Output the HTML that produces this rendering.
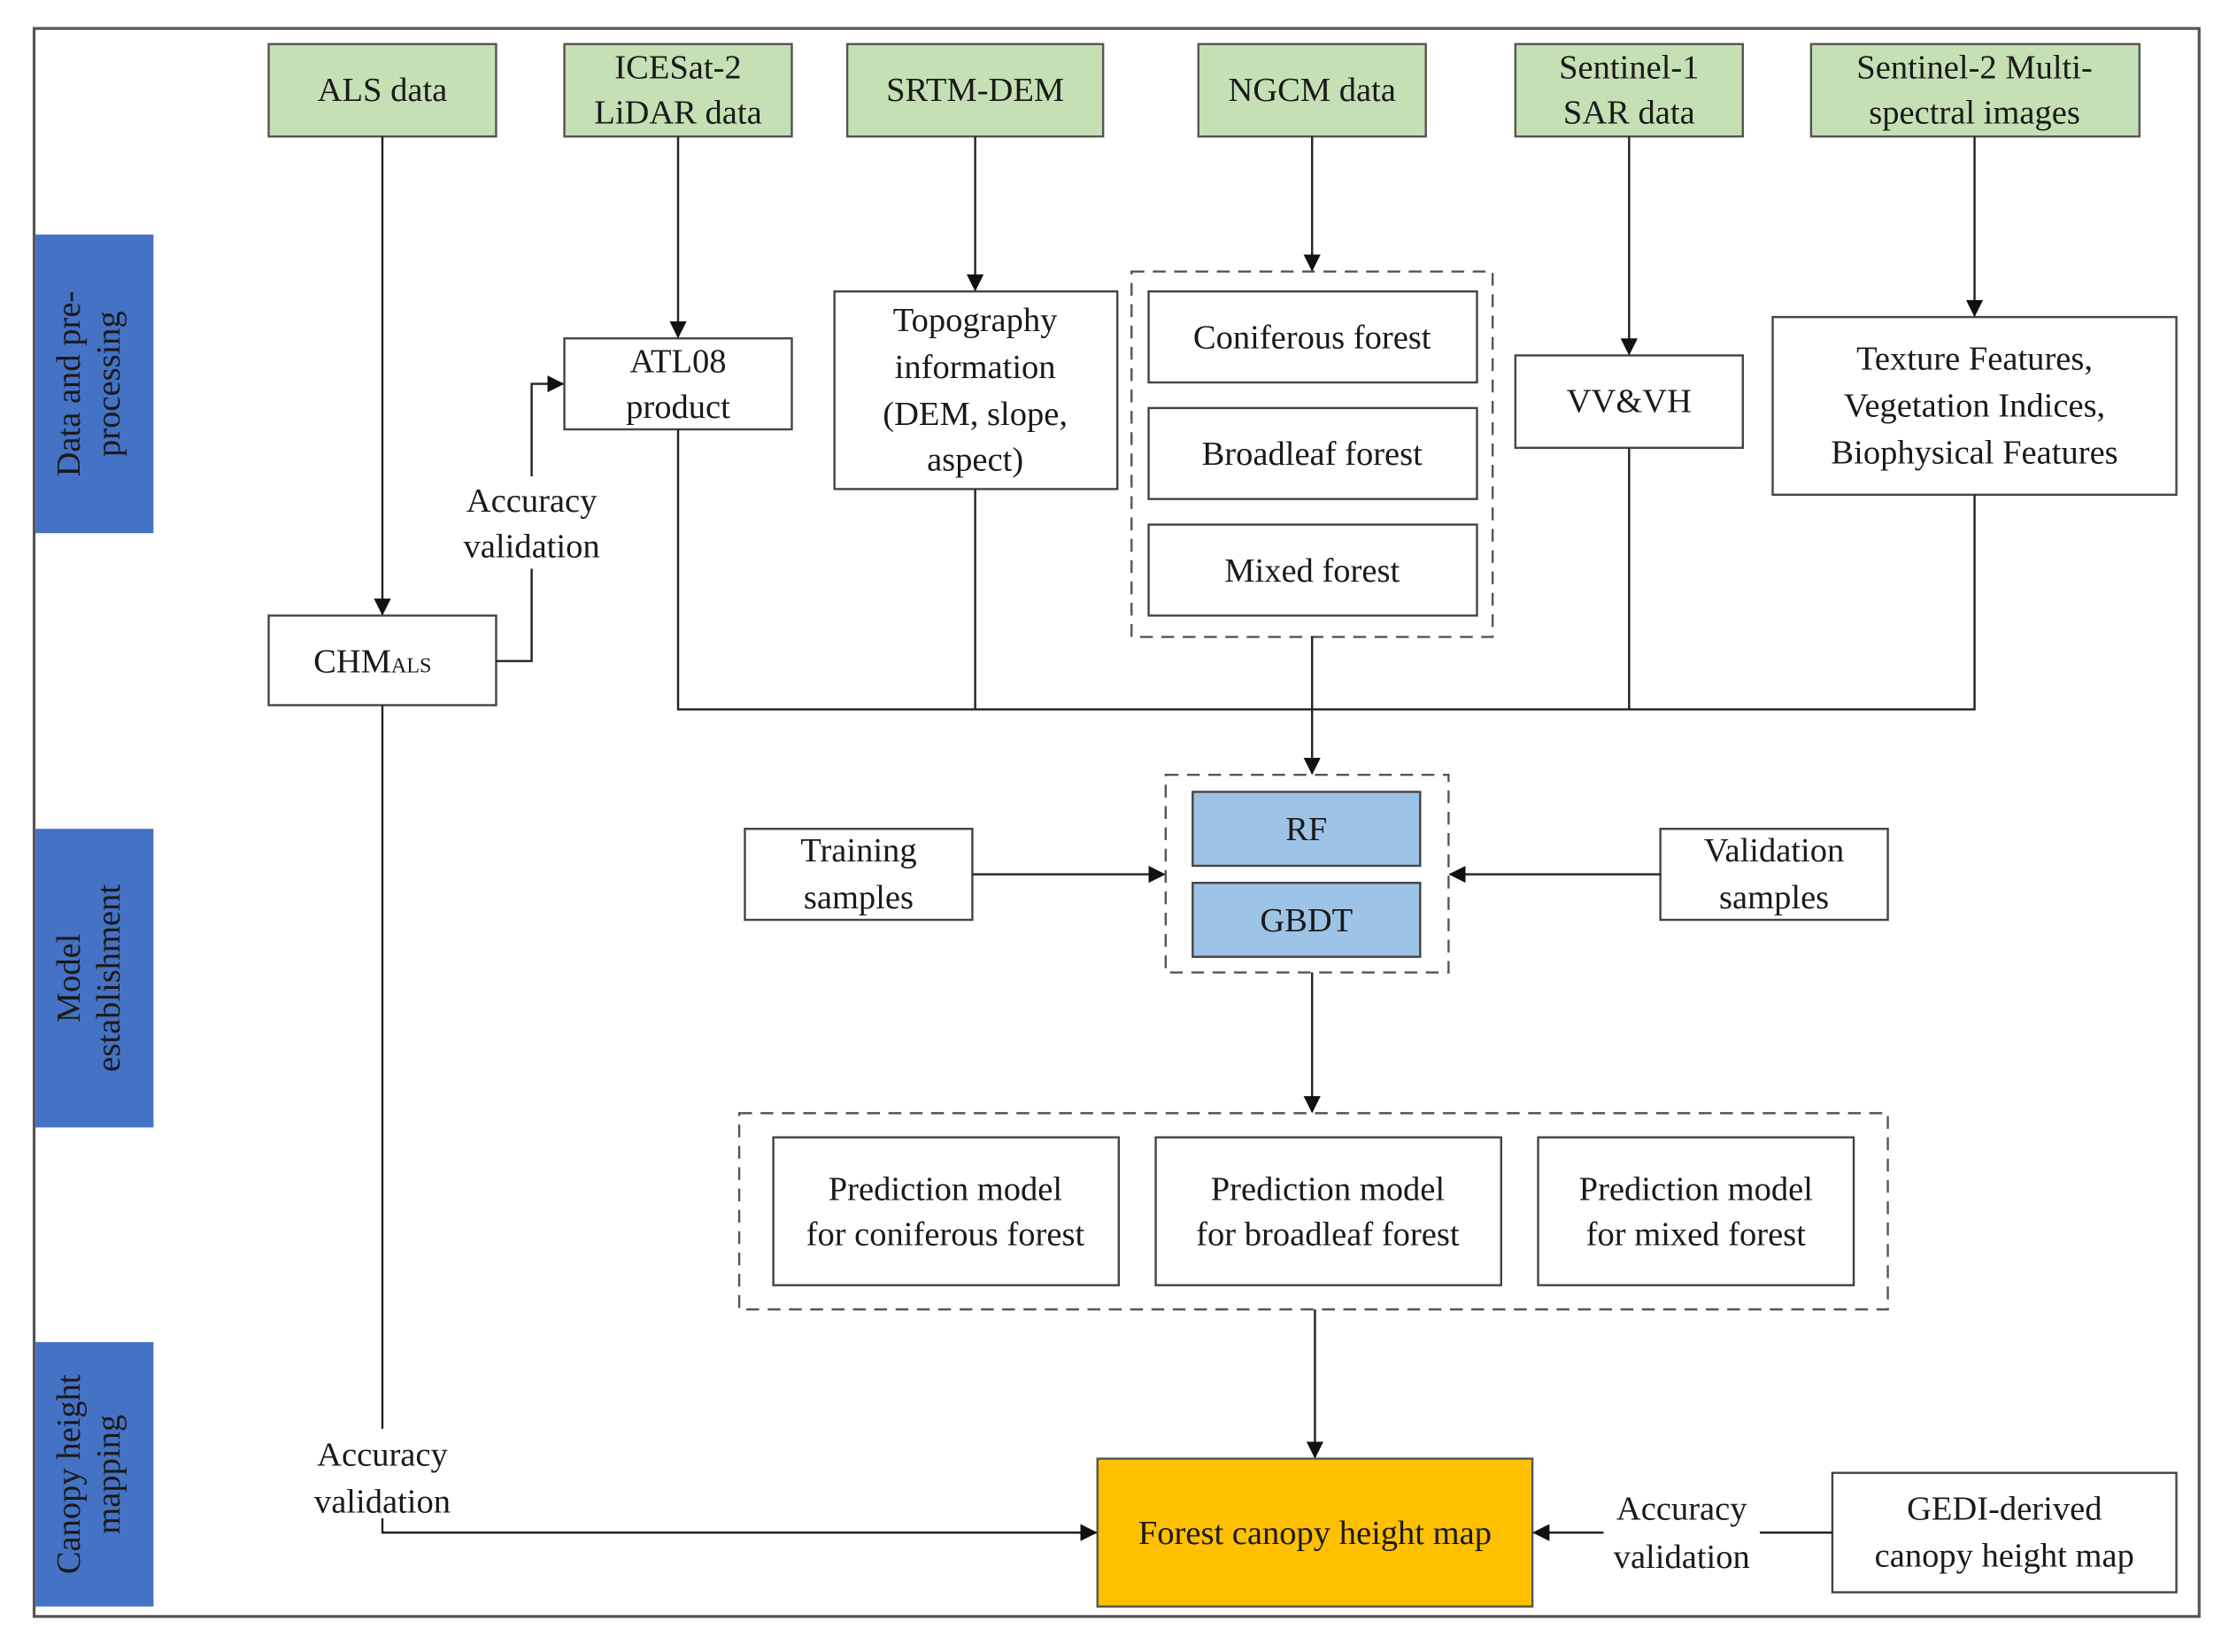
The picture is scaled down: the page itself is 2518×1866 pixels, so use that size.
<!DOCTYPE html>
<html><head><meta charset="utf-8"><style>html,body{margin:0;padding:0;background:#fff}svg{display:block}</style></head><body>
<svg width="2518" height="1866" viewBox="0 0 1568 1162" preserveAspectRatio="none" xmlns="http://www.w3.org/2000/svg" font-family="Liberation Serif, serif" font-size="24" fill="#1a1a1a">
<defs><marker id="a" markerWidth="12" markerHeight="12" refX="11" refY="6" orient="auto" markerUnits="userSpaceOnUse"><path d="M0,0 L12,6 L0,12 z" fill="#111"/></marker></defs>
<rect x="24" y="20" width="1523" height="1117" fill="#fff" stroke="#555" stroke-width="2"/>
<g fill="#4472c4"><rect x="25" y="165" width="83" height="210"/><rect x="25" y="583" width="83" height="210"/><rect x="25" y="944" width="83" height="186"/></g>
<g font-size="24" text-anchor="middle" fill="#1a1a1a">
<text transform="translate(56,270) rotate(-90)">Data and pre-</text><text transform="translate(84,270) rotate(-90)">processing</text>
<text transform="translate(56,688) rotate(-90)">Model</text><text transform="translate(84,688) rotate(-90)">establishment</text>
<text transform="translate(56,1037) rotate(-90)">Canopy height</text><text transform="translate(84,1037) rotate(-90)">mapping</text>
</g>
<g fill="#c5e0b4" stroke="#555" stroke-width="1.5">
<rect x="189" y="31" width="160" height="65"/><rect x="397" y="31" width="160" height="65"/><rect x="596" y="31" width="180" height="65"/><rect x="843" y="31" width="160" height="65"/><rect x="1066" y="31" width="160" height="65"/><rect x="1274" y="31" width="231" height="65"/>
</g>
<g fill="#fff" stroke="#444" stroke-width="1.5">
<rect x="189" y="433" width="160" height="63"/><rect x="397" y="238" width="160" height="64"/><rect x="587" y="205" width="199" height="139"/>
<rect x="808" y="205" width="231" height="64"/><rect x="808" y="287" width="231" height="64"/><rect x="808" y="369" width="231" height="64"/>
<rect x="1066" y="250" width="160" height="65"/><rect x="1247" y="223" width="284" height="125"/>
<rect x="524" y="583" width="160" height="64"/><rect x="1168" y="583" width="160" height="64"/>
<rect x="544" y="800" width="243" height="104"/><rect x="813" y="800" width="243" height="104"/><rect x="1082" y="800" width="222" height="104"/>
<rect x="1289" y="1036" width="242" height="84"/>
</g>
<g fill="none" stroke="#555" stroke-width="1.5" stroke-dasharray="9,6">
<rect x="796" y="191" width="254" height="257"/><rect x="820" y="545" width="199" height="139"/><rect x="520" y="783" width="808" height="138"/>
</g>
<g fill="#9dc3e6" stroke="#444" stroke-width="1.5"><rect x="839" y="557" width="160" height="52"/><rect x="839" y="621" width="160" height="52"/></g>
<rect x="772" y="1026" width="306" height="104" fill="#ffc000" stroke="#555" stroke-width="1.5"/>
<g stroke="#222" stroke-width="1.5" fill="none">
<line x1="269" y1="96" x2="269" y2="432" marker-end="url(#a)"/>
<line x1="477" y1="96" x2="477" y2="237" marker-end="url(#a)"/>
<line x1="686" y1="96" x2="686" y2="204" marker-end="url(#a)"/>
<line x1="923" y1="96" x2="923" y2="190" marker-end="url(#a)"/>
<line x1="1146" y1="96" x2="1146" y2="249" marker-end="url(#a)"/>
<line x1="1389" y1="96" x2="1389" y2="222" marker-end="url(#a)"/>
<polyline points="349,465 374,465 374,400"/><polyline points="374,335 374,270 396,270" marker-end="url(#a)"/>
<polyline points="477,302 477,499 1389,499 1389,348"/>
<line x1="686" y1="344" x2="686" y2="499"/><line x1="1146" y1="315" x2="1146" y2="499"/>
<line x1="923" y1="448" x2="923" y2="544" marker-end="url(#a)"/>
<line x1="684" y1="615" x2="819" y2="615" marker-end="url(#a)"/>
<line x1="1168" y1="615" x2="1020" y2="615" marker-end="url(#a)"/>
<line x1="923" y1="684" x2="923" y2="782" marker-end="url(#a)"/>
<line x1="925" y1="921" x2="925" y2="1025" marker-end="url(#a)"/>
<line x1="269" y1="496" x2="269" y2="1005"/><polyline points="269,1068 269,1078 771,1078" marker-end="url(#a)"/>
<line x1="1289" y1="1078" x2="1238" y2="1078"/><line x1="1128" y1="1078" x2="1079" y2="1078" marker-end="url(#a)"/>
</g>
<g text-anchor="middle">
<text x="269" y="71">ALS data</text>
<text x="477" y="55">ICESat-2</text><text x="477" y="87">LiDAR data</text>
<text x="686" y="71">SRTM-DEM</text>
<text x="923" y="71">NGCM data</text>
<text x="1146" y="55">Sentinel-1</text><text x="1146" y="87">SAR data</text>
<text x="1389" y="55">Sentinel-2 Multi-</text><text x="1389" y="87">spectral images</text>
<text x="262" y="473">CHM<tspan font-size="15">ALS</tspan></text>
<text x="477" y="262">ATL08</text><text x="477" y="294">product</text>
<text x="374" y="360">Accuracy</text><text x="374" y="392">validation</text>
<text x="686" y="233">Topography</text><text x="686" y="266">information</text><text x="686" y="299">(DEM, slope,</text><text x="686" y="331">aspect)</text>
<text x="923" y="245">Coniferous forest</text><text x="923" y="327">Broadleaf forest</text><text x="923" y="409">Mixed forest</text>
<text x="1146" y="290">VV&amp;VH</text>
<text x="1389" y="260">Texture Features,</text><text x="1389" y="293">Vegetation Indices,</text><text x="1389" y="326">Biophysical Features</text>
<text x="604" y="606">Training</text><text x="604" y="639">samples</text>
<text x="1248" y="606">Validation</text><text x="1248" y="639">samples</text>
<text x="919" y="591">RF</text><text x="919" y="655">GBDT</text>
<text x="665" y="844">Prediction model</text><text x="665" y="876">for coniferous forest</text>
<text x="934" y="844">Prediction model</text><text x="934" y="876">for broadleaf forest</text>
<text x="1193" y="844">Prediction model</text><text x="1193" y="876">for mixed forest</text>
<text x="269" y="1031">Accuracy</text><text x="269" y="1064">validation</text>
<text x="925" y="1086">Forest canopy height map</text>
<text x="1183" y="1069">Accuracy</text><text x="1183" y="1103">validation</text>
<text x="1410" y="1069">GEDI-derived</text><text x="1410" y="1102">canopy height map</text>
</g>
</svg>
</body></html>
